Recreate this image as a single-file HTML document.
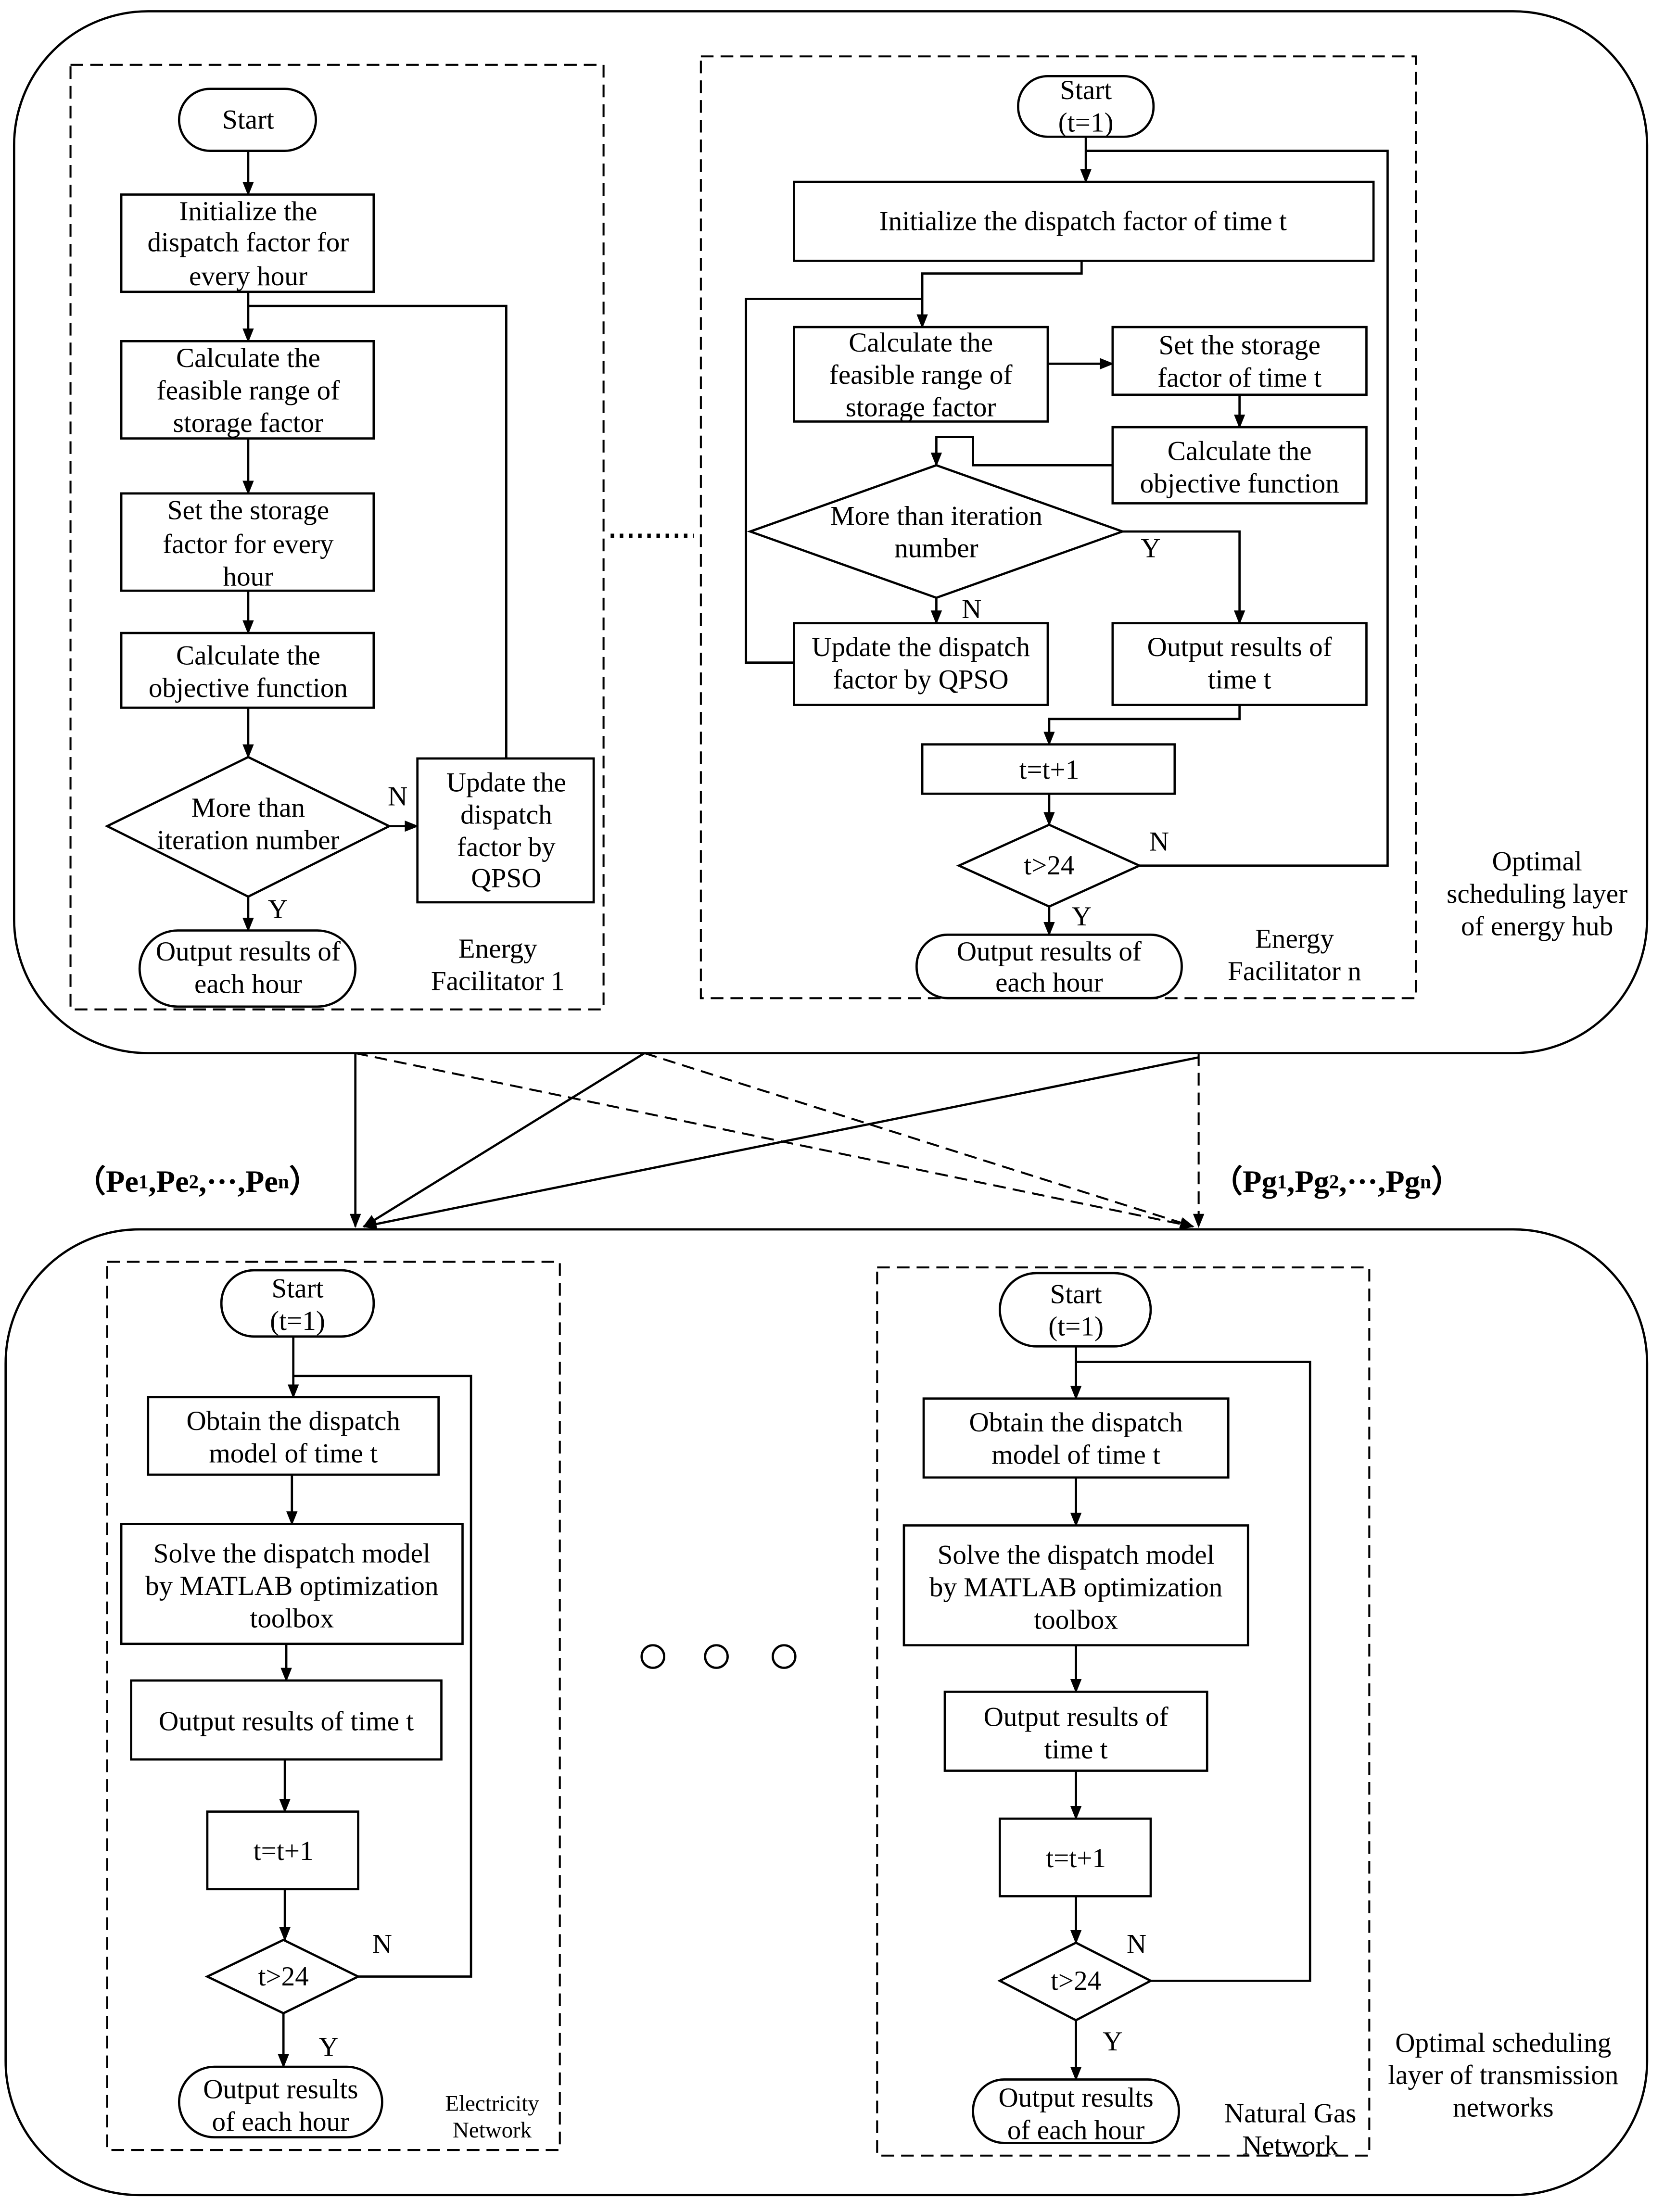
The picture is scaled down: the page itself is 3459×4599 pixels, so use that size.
<!DOCTYPE html>
<html><head><meta charset="utf-8"><style>
html,body{margin:0;padding:0;background:#fff;}
svg{display:block;}
text{font-family:"Liberation Serif",serif;font-size:19.5px;fill:#000;text-anchor:middle;dominant-baseline:central;}
.s{fill:none;stroke:#000;stroke-width:1.6;}
.d{fill:none;stroke:#000;stroke-width:1.4;stroke-dasharray:9,5;}
.b{fill:#fff;stroke:#000;stroke-width:1.6;}
</style></head><body>
<svg width="3459" height="4599" viewBox="0 0 1180 1569" preserveAspectRatio="none" xmlns="http://www.w3.org/2000/svg">
<defs><marker id="a" markerWidth="10" markerHeight="10" refX="9" refY="5" orient="auto" markerUnits="userSpaceOnUse"><path d="M0,1 L10,5 L0,9 z" fill="#000"/></marker></defs>

<rect x="10" y="8" width="1158" height="739" rx="95" class="s"/>
<rect x="4" y="872" width="1164" height="685" rx="95" class="s"/>

<rect x="50" y="46" width="378" height="670" class="d"/>
<rect x="127" y="63" width="97" height="44" rx="22" class="b"/><text x="176" y="85">Start</text>
<line x1="176" y1="107" x2="176" y2="138" class="s" marker-end="url(#a)"/>
<rect x="86" y="138" width="179" height="69" class="b"/>
<text x="176" y="150">Initialize the</text><text x="176" y="172">dispatch factor for</text><text x="176" y="196">every hour</text>
<line x1="176" y1="207" x2="176" y2="242" class="s" marker-end="url(#a)"/>
<polyline points="359,538 359,217 176,217" class="s"/>
<rect x="86" y="242" width="179" height="69" class="b"/>
<text x="176" y="254">Calculate the</text><text x="176" y="277">feasible range of</text><text x="176" y="300">storage factor</text>
<line x1="176" y1="311" x2="176" y2="350" class="s" marker-end="url(#a)"/>
<rect x="86" y="350" width="179" height="69" class="b"/>
<text x="176" y="362">Set the storage</text><text x="176" y="386">factor for every</text><text x="176" y="409">hour</text>
<line x1="176" y1="419" x2="176" y2="449" class="s" marker-end="url(#a)"/>
<rect x="86" y="449" width="179" height="53" class="b"/>
<text x="176" y="465">Calculate the</text><text x="176" y="488">objective function</text>
<line x1="176" y1="502" x2="176" y2="537" class="s" marker-end="url(#a)"/>
<polygon points="176,537 276,586 176,636 76,586" class="b"/>
<text x="176" y="573">More than</text><text x="176" y="596">iteration number</text>
<line x1="276" y1="586" x2="296" y2="586" class="s" marker-end="url(#a)"/>
<text x="282" y="565">N</text>
<rect x="296" y="538" width="125" height="102" class="b"/>
<text x="359" y="555">Update the</text><text x="359" y="578">dispatch</text><text x="359" y="601">factor by</text><text x="359" y="623">QPSO</text>
<line x1="176" y1="636" x2="176" y2="660" class="s" marker-end="url(#a)"/>
<text x="197" y="645">Y</text>
<rect x="99" y="660" width="153" height="54" rx="27" class="b"/>
<text x="176" y="675">Output results of</text><text x="176" y="698">each hour</text>
<text x="353" y="673">Energy</text><text x="353" y="696">Facilitator 1</text>

<line x1="433" y1="380" x2="492" y2="380" stroke="#000" stroke-width="3" stroke-dasharray="2.5,4"/>

<rect x="497" y="40" width="507" height="668" class="d"/>
<rect x="722" y="54" width="96" height="43" rx="21" class="b"/>
<text x="770" y="64">Start</text><text x="770" y="87">(t=1)</text>
<line x1="770" y1="97" x2="770" y2="129" class="s" marker-end="url(#a)"/>
<rect x="563" y="129" width="411" height="56" class="b"/>
<text x="768" y="157">Initialize the dispatch factor of time t</text>
<polyline points="767,185 767,194 654,194 654,232" class="s" marker-end="url(#a)"/>
<polyline points="563,470 529,470 529,212 654,212" class="s"/>
<rect x="563" y="232" width="180" height="67" class="b"/>
<text x="653" y="243">Calculate the</text><text x="653" y="266">feasible range of</text><text x="653" y="289">storage factor</text>
<line x1="743" y1="258" x2="789" y2="258" class="s" marker-end="url(#a)"/>
<rect x="789" y="232" width="180" height="48" class="b"/>
<text x="879" y="245">Set the storage</text><text x="879" y="268">factor of time t</text>
<line x1="879" y1="280" x2="879" y2="303" class="s" marker-end="url(#a)"/>
<rect x="789" y="303" width="180" height="54" class="b"/>
<text x="879" y="320">Calculate the</text><text x="879" y="343">objective function</text>
<polyline points="789,330 690,330 690,310 664,310 664,330" class="s" marker-end="url(#a)"/>
<polygon points="664,330 796,377 664,424 532,377" class="b"/>
<text x="664" y="366">More than iteration</text><text x="664" y="389">number</text>
<polyline points="796,377 879,377 879,442" class="s" marker-end="url(#a)"/>
<text x="816" y="389">Y</text>
<line x1="664" y1="424" x2="664" y2="442" class="s" marker-end="url(#a)"/>
<text x="689" y="432">N</text>
<rect x="563" y="442" width="180" height="58" class="b"/>
<text x="653" y="459">Update the dispatch</text><text x="653" y="482">factor by QPSO</text>
<rect x="789" y="442" width="180" height="58" class="b"/>
<text x="879" y="459">Output results of</text><text x="879" y="482">time t</text>
<polyline points="879,500 879,510 744,510 744,528" class="s" marker-end="url(#a)"/>
<rect x="654" y="528" width="179" height="35" class="b"/>
<text x="744" y="546">t=t+1</text>
<line x1="744" y1="563" x2="744" y2="585" class="s" marker-end="url(#a)"/>
<polygon points="744,585 808,614 744,643 680,614" class="b"/>
<text x="744" y="614">t&gt;24</text>
<polyline points="808,614 984,614 984,107 770,107" class="s"/>
<text x="822" y="597">N</text>
<line x1="744" y1="643" x2="744" y2="663" class="s" marker-end="url(#a)"/>
<text x="767" y="650">Y</text>
<rect x="650" y="663" width="188" height="45" rx="22" class="b"/>
<text x="744" y="675">Output results of</text><text x="744" y="697">each hour</text>
<text x="918" y="666">Energy</text><text x="918" y="689">Facilitator n</text>
<text x="1090" y="611">Optimal</text><text x="1090" y="634">scheduling layer</text><text x="1090" y="657">of energy hub</text>

<line x1="252" y1="747" x2="252" y2="870" class="s" marker-end="url(#a)"/>
<line x1="457" y1="747" x2="258" y2="870" class="s" marker-end="url(#a)"/>
<line x1="850" y1="750" x2="258" y2="870" class="s" marker-end="url(#a)"/>
<line x1="252" y1="747" x2="846" y2="870" class="d" marker-end="url(#a)"/>
<line x1="457" y1="747" x2="846" y2="870" class="d" marker-end="url(#a)"/>
<line x1="850" y1="747" x2="850" y2="870" class="d" marker-end="url(#a)"/>
<text x="140" y="838" style="font-weight:bold;font-size:22px">（Pe<tspan font-size="14">1</tspan>,Pe<tspan font-size="14">2</tspan>,···,Pe<tspan font-size="14">n</tspan>）</text>
<text x="948" y="838" style="font-weight:bold;font-size:22px">（Pg<tspan font-size="14">1</tspan>,Pg<tspan font-size="14">2</tspan>,···,Pg<tspan font-size="14">n</tspan>）</text>

<rect x="76" y="895" width="321" height="630" class="d"/>
<rect x="157" y="901" width="108" height="47" rx="23" class="b"/>
<text x="211" y="914">Start</text><text x="211" y="937">(t=1)</text>
<line x1="208" y1="948" x2="208" y2="991" class="s" marker-end="url(#a)"/>
<polyline points="254,1402 334,1402 334,976 208,976" class="s"/>
<rect x="105" y="991" width="206" height="55" class="b"/>
<text x="208" y="1008">Obtain the dispatch</text><text x="208" y="1031">model of time t</text>
<line x1="207" y1="1046" x2="207" y2="1081" class="s" marker-end="url(#a)"/>
<rect x="86" y="1081" width="242" height="85" class="b"/>
<text x="207" y="1102">Solve the dispatch model</text><text x="207" y="1125">by MATLAB optimization</text><text x="207" y="1148">toolbox</text>
<line x1="203" y1="1166" x2="203" y2="1192" class="s" marker-end="url(#a)"/>
<rect x="93" y="1192" width="220" height="56" class="b"/>
<text x="203" y="1221">Output results of time t</text>
<line x1="202" y1="1248" x2="202" y2="1285" class="s" marker-end="url(#a)"/>
<rect x="147" y="1285" width="107" height="55" class="b"/>
<text x="201" y="1313">t=t+1</text>
<line x1="202" y1="1340" x2="202" y2="1376" class="s" marker-end="url(#a)"/>
<polygon points="201,1376 254,1402 201,1428 147,1402" class="b"/>
<text x="201" y="1402">t&gt;24</text>
<text x="271" y="1379">N</text>
<line x1="201" y1="1428" x2="201" y2="1466" class="s" marker-end="url(#a)"/>
<text x="233" y="1452">Y</text>
<rect x="127" y="1466" width="144" height="50" rx="25" class="b"/>
<text x="199" y="1482">Output results</text><text x="199" y="1505">of each hour</text>
<text x="349" y="1492" style="font-size:16px">Electricity</text><text x="349" y="1511" style="font-size:16px">Network</text>

<circle cx="463" cy="1175" r="8" class="s"/><circle cx="508" cy="1175" r="8" class="s"/><circle cx="556" cy="1175" r="8" class="s"/>

<rect x="622" y="899" width="349" height="630" class="d"/>
<rect x="709" y="903" width="107" height="52" rx="26" class="b"/>
<text x="763" y="918">Start</text><text x="763" y="941">(t=1)</text>
<line x1="763" y1="955" x2="763" y2="992" class="s" marker-end="url(#a)"/>
<polyline points="816,1405 929,1405 929,966 763,966" class="s"/>
<rect x="655" y="992" width="216" height="56" class="b"/>
<text x="763" y="1009">Obtain the dispatch</text><text x="763" y="1032">model of time t</text>
<line x1="763" y1="1048" x2="763" y2="1082" class="s" marker-end="url(#a)"/>
<rect x="641" y="1082" width="244" height="85" class="b"/>
<text x="763" y="1103">Solve the dispatch model</text><text x="763" y="1126">by MATLAB optimization</text><text x="763" y="1149">toolbox</text>
<line x1="763" y1="1167" x2="763" y2="1200" class="s" marker-end="url(#a)"/>
<rect x="670" y="1200" width="186" height="56" class="b"/>
<text x="763" y="1218">Output results of</text><text x="763" y="1241">time t</text>
<line x1="763" y1="1256" x2="763" y2="1290" class="s" marker-end="url(#a)"/>
<rect x="709" y="1290" width="107" height="55" class="b"/>
<text x="763" y="1318">t=t+1</text>
<line x1="763" y1="1345" x2="763" y2="1378" class="s" marker-end="url(#a)"/>
<polygon points="763,1378 816,1405 763,1433 709,1405" class="b"/>
<text x="763" y="1405">t&gt;24</text>
<text x="806" y="1379">N</text>
<line x1="763" y1="1433" x2="763" y2="1475" class="s" marker-end="url(#a)"/>
<text x="789" y="1448">Y</text>
<rect x="690" y="1475" width="146" height="45" rx="22" class="b"/>
<text x="763" y="1488">Output results</text><text x="763" y="1511">of each hour</text>
<text x="915" y="1499">Natural Gas</text><text x="915" y="1522">Network</text>
<text x="1066" y="1449">Optimal scheduling</text><text x="1066" y="1472">layer of transmission</text><text x="1066" y="1495">networks</text>
</svg>
</body></html>
